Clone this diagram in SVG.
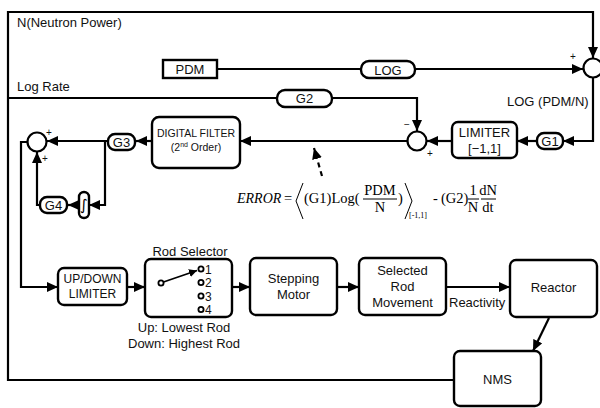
<svg xmlns="http://www.w3.org/2000/svg" width="600" height="408" viewBox="0 0 600 408">
<style>
.b{fill:#fff;stroke:#000;stroke-width:2.4}
.c{fill:#fff;stroke:#000;stroke-width:2.2}
.l{fill:none;stroke:#000;stroke-width:2.2}
.t{font-family:"Liberation Sans",Arial,sans-serif;font-size:13px;fill:#111}
.m{text-anchor:middle}
.s{font-family:"Liberation Sans",Arial,sans-serif;font-size:10px;fill:#111}
.f{font-family:"Liberation Serif","Times New Roman",serif;font-size:14.5px;fill:#000}
.sub{font-size:8px}
.it{font-style:italic;font-size:14px}
.n{font-family:"Liberation Sans",Arial,sans-serif;font-size:12px;fill:#111}
</style>
<defs>
<marker id="a" markerUnits="userSpaceOnUse" markerWidth="12" markerHeight="10" refX="11" refY="5" orient="auto"><path d="M0,0 L11,5 L0,10 z" fill="#000"/></marker>
<marker id="as" markerUnits="userSpaceOnUse" markerWidth="9" markerHeight="8" refX="8" refY="4" orient="auto"><path d="M0,0 L8,4 L0,8 z" fill="#000"/></marker>
</defs>
<rect width="600" height="408" fill="#fff"/>
<g id="connectors">
<path class="l" d="M454,380 H8 V12 H593 V58" marker-end="url(#a)"/>
<path class="l" d="M217,69 H361"/>
<path class="l" d="M415,69 H583" marker-end="url(#a)"/>
<path class="l" d="M593,77.5 V141 H563" marker-end="url(#a)"/>
<path class="l" d="M537,141 H517" marker-end="url(#a)"/>
<path class="l" d="M452,141 H427" marker-end="url(#a)"/>
<path class="l" d="M8,98 H277"/>
<path class="l" d="M332,98 H417 V131" marker-end="url(#a)"/>
<path class="l" d="M407.5,141 H240" marker-end="url(#a)"/>
<path class="l" d="M152,141 H136" marker-end="url(#a)"/>
<path class="l" d="M108,141 H47" marker-end="url(#a)"/>
<path class="l" d="M105,141 V205 H89" marker-end="url(#a)"/>
<path class="l" d="M79,205 H68" marker-end="url(#a)"/>
<path class="l" d="M40,205 H37 V152" marker-end="url(#a)"/>
<path class="l" d="M27.5,142 H21 V287 H58" marker-end="url(#a)"/>
<path class="l" d="M127,287 H145" marker-end="url(#a)"/>
<path class="l" d="M232,287 H250" marker-end="url(#a)"/>
<path class="l" d="M337,287 H359" marker-end="url(#a)"/>
<path class="l" d="M446,287 H510" marker-end="url(#a)"/>
<path class="l" d="M549,318 L533,351" marker-end="url(#a)"/>
<path class="l" d="M322,176 L314,148" stroke-dasharray="5,4" marker-end="url(#a)"/>
</g>
<text class="t" x="17" y="27">N(Neutron Power)</text>
<text class="t" x="17" y="91">Log Rate</text>
<text class="t" x="507" y="106">LOG (PDM/N)</text>
<text class="t" x="449" y="307">Reactivity</text>
<g id="pdm"><rect class="b" x="163" y="60" width="54" height="18"/><text class="t m" x="190" y="74">PDM</text></g>
<g id="log"><rect class="b" x="361" y="61" width="54" height="17" rx="8"/><text class="t m" x="388" y="74.5">LOG</text></g>
<g id="sum1"><circle class="c" cx="593" cy="68" r="9.5"/><text class="s" x="570" y="60">+</text></g>
<g id="g2"><rect class="b" x="277" y="90" width="55" height="17" rx="8"/><text class="t m" x="304.5" y="103">G2</text></g>
<g id="g1"><rect class="b" x="537" y="133" width="26" height="16" rx="7"/><text class="t m" x="550" y="146">G1</text></g>
<g id="limiter"><rect class="b" x="452" y="122" width="65" height="36" rx="6"/><text class="t m" x="484.5" y="137">LIMITER</text><text class="t m" x="484.5" y="153">[−1,1]</text></g>
<g id="sum2"><circle class="c" cx="417" cy="141" r="9.5"/><text class="s" x="404" y="128">−</text><text class="s" x="427" y="157">+</text></g>
<g id="filter"><rect class="b" x="152" y="117" width="88" height="51" rx="7"/><text class="m" x="196" y="137" style="font-family:'Liberation Sans',Arial,sans-serif;font-size:10.5px;fill:#111">DIGITAL FILTER</text><text class="m" x="196" y="151" style="font-family:'Liberation Sans',Arial,sans-serif;font-size:10.5px;fill:#111">(2<tspan style="font-size:7px" dy="-4">nd</tspan><tspan dy="4"> Order)</tspan></text></g>
<g id="g3"><rect class="b" x="108" y="134" width="27" height="16" rx="7"/><text class="t m" x="121.5" y="147">G3</text></g>
<g id="sum3"><circle class="c" cx="37" cy="142" r="9.5"/><text class="s" x="46" y="136">+</text><text class="s" x="42" y="162">+</text></g>
<g id="integral"><rect class="b" x="79" y="192" width="10" height="26" rx="5"/><text x="84" y="210" text-anchor="middle" style="font-family:'DejaVu Sans',sans-serif;font-size:15px">∫</text></g>
<g id="g4"><rect class="b" x="40" y="197" width="27" height="16" rx="7"/><text class="t m" x="53.5" y="210">G4</text></g>
<g id="updown"><rect class="b" x="58" y="268" width="69" height="37" rx="6"/><text class="t m" x="92.5" y="283" style="font-size:12px">UP/DOWN</text><text class="t m" x="92.5" y="298" style="font-size:12px">LIMITER</text></g>
<g id="rodselector"><text class="t m" x="190" y="256">Rod Selector</text><rect class="b" x="145" y="259" width="87" height="58" rx="6"/>
<circle cx="161" cy="283" r="2.6" fill="#fff" stroke="#000" stroke-width="1.8"/>
<path d="M163.5,282 L197,270.5" stroke="#000" stroke-width="1.8" marker-end="url(#as)"/>
<circle cx="201" cy="269" r="2.6" fill="#fff" stroke="#000" stroke-width="1.8"/>
<circle cx="201" cy="282.5" r="2.6" fill="#fff" stroke="#000" stroke-width="1.8"/>
<circle cx="201" cy="296" r="2.6" fill="#fff" stroke="#000" stroke-width="1.8"/>
<circle cx="201" cy="309.5" r="2.6" fill="#fff" stroke="#000" stroke-width="1.8"/>
<text class="n" x="205" y="273.5">1</text><text class="n" x="205" y="287">2</text><text class="n" x="205" y="300.5">3</text><text class="n" x="205" y="314">4</text>
<text class="t m" x="184" y="332">Up: Lowest Rod</text><text class="t m" x="184" y="348">Down: Highest Rod</text></g>
<g id="stepping"><rect class="b" x="250" y="258" width="87" height="57" rx="6"/><text class="t m" x="293.5" y="283">Stepping</text><text class="t m" x="293.5" y="299">Motor</text></g>
<g id="selected"><rect class="b" x="359" y="258" width="87" height="57" rx="6"/><text class="t m" x="402.5" y="275">Selected</text><text class="t m" x="402.5" y="291">Rod</text><text class="t m" x="402.5" y="307">Movement</text></g>
<g id="reactor"><rect class="b" x="510" y="260" width="87" height="57" rx="6"/><text class="t m" x="553.5" y="292">Reactor</text></g>
<g id="nms"><rect class="b" x="454" y="351" width="87" height="55" rx="6"/><text class="t m" x="497.5" y="384">NMS</text></g>
<g id="formula">
<text class="f it" x="237" y="203">ERROR</text>
<text class="f" x="284" y="203">=</text>
<polyline points="303,183 296,201 303,219" fill="none" stroke="#000" stroke-width="1"/>
<text class="f" x="304" y="203">(G1)Log(</text>
<text class="f" x="380" y="195" text-anchor="middle">PDM</text>
<line x1="363" y1="199" x2="397" y2="199" stroke="#000" stroke-width="1"/>
<text class="f" x="380" y="212" text-anchor="middle">N</text>
<text class="f" x="398" y="203">)</text>
<polyline points="405,183 412,201 405,219" fill="none" stroke="#000" stroke-width="1"/>
<text class="f sub" x="409" y="218">[-1,1]</text>
<text class="f" x="433" y="203">-</text>
<text class="f" x="441" y="203">(G2)</text>
<text class="f" x="473" y="195" text-anchor="middle">1</text>
<line x1="468" y1="199" x2="479" y2="199" stroke="#000" stroke-width="1"/>
<text class="f" x="473" y="212" text-anchor="middle">N</text>
<text class="f" x="488" y="195" text-anchor="middle">dN</text>
<line x1="481" y1="199" x2="496" y2="199" stroke="#000" stroke-width="1"/>
<text class="f" x="488" y="212" text-anchor="middle">dt</text>
</g>
</svg>
